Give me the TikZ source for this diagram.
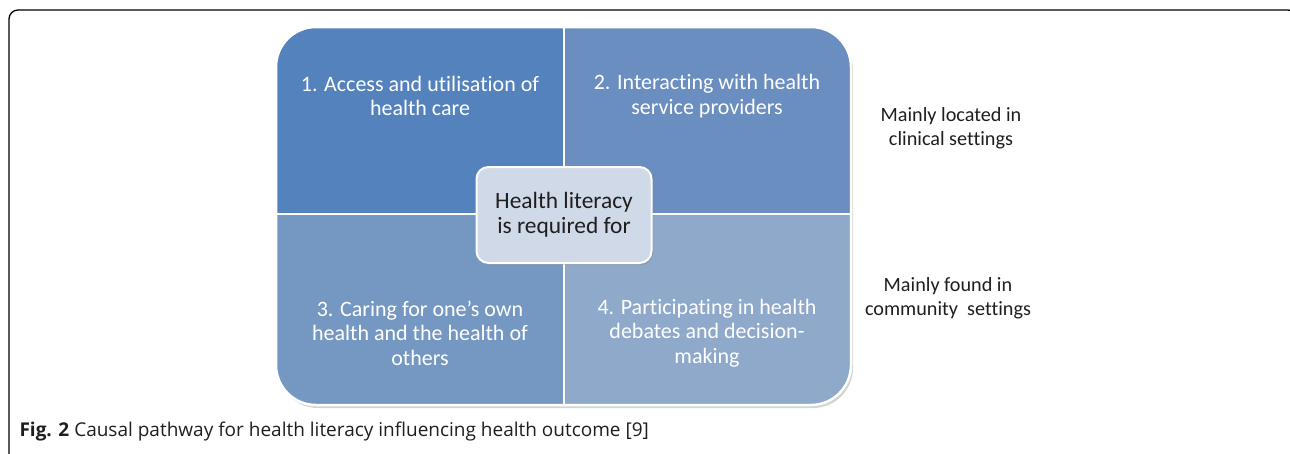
\documentclass[tikz,border=0pt]{standalone}
\usepackage{fontspec}
\setmainfont{Carlito}[Ligatures=NoCommon]
\newfontfamily\capfont{Open Sans}
\usetikzlibrary{shadows}
\definecolor{qone}{HTML}{5482BC}
\definecolor{qtwo}{HTML}{6A8EBF}
\definecolor{qthree}{HTML}{7598C3}
\definecolor{qfour}{HTML}{8FA9CB}
\definecolor{hlfill}{HTML}{D0D9E8}
\definecolor{inkgray}{HTML}{1E1E1E}
\tikzset{
  qtext/.style={text=white,align=center,font=\fontsize{22}{24.5}\selectfont},
  sidetext/.style={text=inkgray,align=center,font=\fontsize{20.2}{24}\selectfont},
  hlbox/.style={rounded corners=12pt,fill=hlfill,draw=white,line width=2pt,
    minimum width=175pt,minimum height=96pt,align=center,text=inkgray,
    font=\fontsize{23.4}{25}\selectfont,drop shadow={opacity=0.35,shadow xshift=1.5pt,shadow yshift=-2pt}}
}
\begin{document}
\begin{tikzpicture}[x=1pt,y=-1pt]
  \useasboundingbox (0,0) rectangle (1290,453);
  % outer frame
  \draw[line width=1.3pt,rounded corners=9pt] (9,10) rectangle (1297,466);

  % the four fields
  \path[fill=white,rounded corners=40pt,drop shadow={opacity=0.35,shadow xshift=2pt,shadow yshift=-3pt}]
    (276,27) rectangle (851,405);
  \begin{scope}
    \clip[rounded corners=40pt] (276,27) rectangle (851,405);
    \fill[qone]   (276,27)  rectangle (564,214);
    \fill[qtwo]   (564,27)  rectangle (851,214);
    \fill[qthree] (276,214) rectangle (564,405);
    \fill[qfour]  (564,214) rectangle (851,405);
  \end{scope}
  \draw[white,line width=2.5pt,rounded corners=40pt] (276,27) rectangle (851,405);
  \draw[white,line width=2pt] (564,27) -- (564,405);
  \draw[white,line width=2pt] (276,214) -- (851,214);

  \node[qtext] (access) at (420,96) {1. Access and utilisation of\\health care};
  \node[qtext] (interact) at (707,96) {2. Interacting with health\\service providers};
  \node[qtext] (caring) at (420,333) {3. Caring for one’s own\\health and the health of\\others};
  \node[qtext] (debate) at (707,333) {4. Participating in health\\debates and decision-\\making};

  \node[hlbox] (hl) at (564,215) {Health literacy\\is required for};

  % settings
  \node[sidetext] (clinical) at (951,128) {Mainly located in\\clinical settings};
  \node[sidetext] (community) at (948,298) {Mainly found in\\community\ \ settings};

  \node[anchor=west,text=inkgray,font=\capfont\fontsize{19}{22}\selectfont] (caption) at (16,432)
    {\textbf{Fig. 2} Causal pathway for health literacy influencing health outcome [9]};
\end{tikzpicture}
\end{document}
